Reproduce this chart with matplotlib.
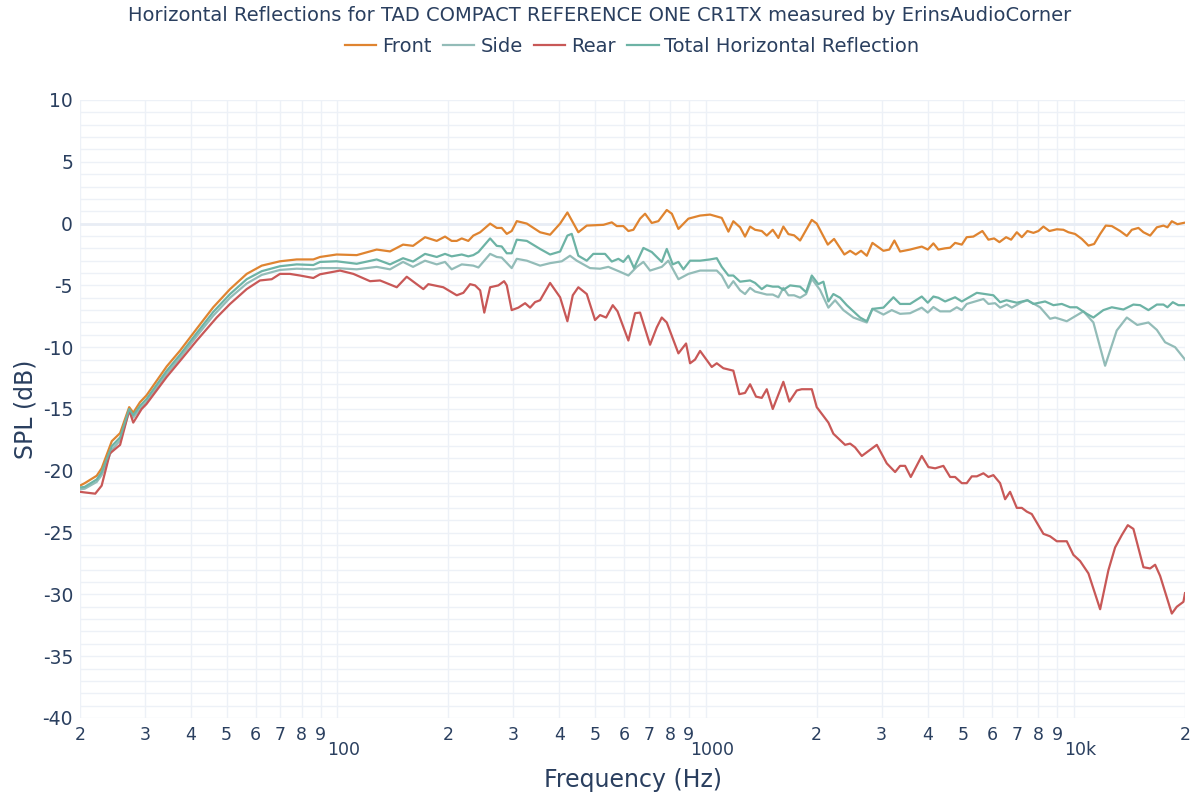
import numpy as np
import matplotlib.pyplot as plt
import matplotlib as mpl

# values (Hz, dB)
freq_front = [20, 20.6, 22.2, 22.9, 24.4, 25.7, 27.2, 27.9, 29.1, 30.3, 34.4, 37.4, 41.5, 46.0, 51.1, 56.7, 62.3,
              69.8, 77.5, 86.0, 89.7, 99.5, 112.8, 127.8, 138.9, 150.7, 160.4, 172.9, 186.0, 195.9, 204.2, 210.8,
              217.5, 226.6, 233.8, 244.0, 259.7, 270.7, 279.2, 288.2, 297.2, 306.8, 326.7, 354.9, 377.8, 402.2,
              421.0, 450.8, 475.2, 527.3, 555.6, 573.3, 597.4, 616.4, 635.9, 663.1, 684.2, 713.4, 743.5, 783.5,
              808.8, 842.7, 897.0, 965.0, 1027, 1105, 1152, 1188, 1239, 1278, 1319, 1361, 1419, 1464, 1520, 1574,
              1624, 1676, 1737, 1803, 1940, 2001, 2144, 2230, 2378, 2465, 2554, 2640, 2736, 2834, 3036, 3150,
              3251, 3369, 3586, 3858, 4006, 4149, 4280, 4464, 4606, 4752, 4955, 5110, 5327, 5636, 5852, 6065,
              6268, 6537, 6744, 6989, 7211, 7468, 7754, 7998, 8253, 8569, 8975, 9352, 9650, 10062, 10492, 10936,
              11333, 11766, 12190, 12657, 13333, 13900, 14343, 14947, 15423, 16084, 16773, 17478, 17922, 18418,
              19075, 20000]
spl_front = [-21.2, -21.0, -20.4, -19.8, -17.6, -16.95, -14.85, -15.3, -14.45, -13.9, -11.55, -10.27, -8.5, -6.77,
             -5.3, -4.07, -3.4, -3.05, -2.9, -2.9, -2.7, -2.5, -2.55, -2.1, -2.25, -1.7, -1.8, -1.1, -1.4, -1.05,
             -1.4, -1.4, -1.2, -1.4, -0.97, -0.7, 0.0, -0.35, -0.35, -0.83, -0.6, 0.2, 0.0, -0.7, -0.9, 0.0,
             0.9, -0.7, -0.16, -0.1, 0.1, -0.2, -0.2, -0.6, -0.5, 0.4, 0.8, 0.05, 0.2, 1.1,
             0.8, -0.43, 0.4, 0.65, 0.73, 0.46, -0.65, 0.19, -0.3, -1.05, -0.24, -0.5, -0.6, -0.97, -0.5, -1.16,
             -0.24, -0.85, -0.95, -1.37, 0.3, 0.0, -1.7, -1.24, -2.5, -2.2, -2.5, -2.2, -2.6, -1.56, -2.2, -2.1,
             -1.37, -2.26, -2.1, -1.86, -2.1, -1.6, -2.1, -2.0, -1.95, -1.56, -1.7, -1.1, -1.05, -0.6, -1.3, -1.2,
             -1.5, -1.1, -1.3, -0.7, -1.1, -0.6, -0.75, -0.6, -0.24, -0.6, -0.46, -0.5, -0.7, -0.84, -1.24, -1.78,
             -1.65, -0.84, -0.16, -0.2, -0.6, -1.0, -0.5, -0.35, -0.7, -0.97, -0.3, -0.16, -0.3, 0.19,
             -0.05, 0.08]

freq_side = [20, 20.6, 22.2, 22.9, 24.4, 25.7, 27.2, 27.9, 29.1, 30.3, 34.4, 37.4, 41.5, 46.0, 51.1, 56.7, 62.3,
             69.8, 77.5, 86.0, 89.7, 99.5, 112.8, 127.8, 138.9, 150.7, 160.4, 172.9, 186.0, 195.9, 204.2, 217.5,
             233.8, 241.4, 259.7, 270.7, 279.2, 297.2, 306.8, 326.7, 354.9, 377.8, 406.4, 428.0, 446.4, 485.0,
             516.4, 543.8, 585.2, 616.4, 649.6, 677, 705.8, 759.4, 791.2, 842.7, 897.0, 965.0, 1027, 1071, 1105,
             1152, 1188, 1239, 1278, 1319, 1361, 1464, 1520, 1574, 1624, 1676, 1737, 1803, 1872, 1940, 2042,
             2152, 2244, 2364, 2516, 2736, 2834, 3036, 3198, 3369, 3586, 3858, 4006, 4149, 4326, 4606, 4803,
             4955, 5110, 5672, 5852, 6102, 6295, 6566, 6772, 7211, 7468, 8084, 8604, 8880, 9550, 10598, 11280,
             12137, 13052, 13900, 14836, 15912, 16773, 17660, 18800, 20000]
spl_side = [-21.5, -21.45, -20.9, -20.35, -18.3, -17.55, -15.2, -15.7, -15.0, -14.45, -12.15, -10.85, -9.1, -7.45,
            -6.0, -4.85, -4.15, -3.75, -3.65, -3.7, -3.6, -3.6, -3.7, -3.5, -3.7, -3.1, -3.5, -3.0, -3.3, -3.1,
            -3.7, -3.3, -3.4, -3.55, -2.45, -2.7, -2.75, -3.6, -2.85, -3.0, -3.4, -3.2, -3.05, -2.6, -3.0, -3.6,
            -3.65, -3.5, -3.9, -4.2, -3.5, -3.1, -3.8, -3.5, -3.0, -4.5, -4.07, -3.8, -3.8, -3.8, -4.2,
            -5.2, -4.66, -5.4, -5.7, -5.2, -5.5, -5.74, -5.74, -5.96, -5.2, -5.8, -5.8, -6.0, -5.7, -4.47, -5.36,
            -6.8, -6.2, -7.0, -7.6, -8.0, -6.9, -7.36, -7.0, -7.3, -7.25, -6.8, -7.2, -6.75, -7.1, -7.1, -6.77,
            -7.0, -6.5, -6.1, -6.5, -6.44, -6.8, -6.55, -6.8, -6.36, -6.2, -6.77, -7.7, -7.6, -7.9, -7.1, -8.0,
            -11.5, -8.65, -7.6, -8.2, -8.0, -8.6, -9.6, -10.0, -11.0]

freq_rear = [20, 20.6, 22.0, 22.9, 24.1, 25.7, 27.2, 27.9, 29.4, 30.3, 34.4, 37.4, 41.5, 47.0, 51.1, 56.7, 61.6,
             66.3, 69.8, 74.3, 79.1, 86.0, 89.7, 101.6, 110.5, 122.6, 130.5, 144.9, 154.2, 171.1, 176.5, 193.8,
             210.8, 219.7, 229.1, 236.4, 244.0, 250.4, 259.7, 273.4, 283.4, 288.2, 297.2, 309.8, 323.2, 333.4,
             344.0, 354.9, 377.8, 402.2, 421.0, 435.4, 450.8, 475.2, 500.4, 516.4, 536.2, 559.0, 576.0, 616.4,
             642.6, 663.1, 705.8, 736.0, 759.4, 783.5, 842.7, 884.0, 906.4, 935.2, 965.0, 1038, 1071, 1116, 1188,
             1233, 1278, 1319, 1369, 1419, 1464, 1520, 1624, 1686, 1766, 1822, 1940, 2001, 2152, 2220, 2389,
             2465, 2542, 2652, 2913, 3100, 3266, 3369, 3476, 3602, 3858, 4022, 4195, 4416, 4606, 4752, 4955,
             5110, 5274, 5443, 5672, 5852, 6037, 6295, 6496, 6700, 6989, 7211, 7436, 7674, 8253, 8604, 8975,
             9550, 9954, 10380, 10936, 11766, 12388, 12920, 13472, 13988, 14486, 15423, 16084, 16592, 17118,
             18418, 19000, 19804, 20000]
spl_rear = [-21.7, -21.75, -21.85, -21.2, -18.6, -17.9, -15.1, -16.1, -15.0, -14.6, -12.4, -11.1, -9.46, -7.6,
            -6.5, -5.3, -4.6, -4.5, -4.07, -4.07, -4.2, -4.4, -4.1, -3.8, -4.07, -4.66, -4.6, -5.15, -4.3, -5.3,
            -4.9, -5.15, -5.8, -5.6, -4.9, -5.0, -5.4, -7.2, -5.15, -5.0, -4.66, -5.0, -7.0, -6.8, -6.44, -6.8,
            -6.35, -6.2, -4.8, -5.96, -7.9, -5.8, -5.15, -5.7, -7.8, -7.4, -7.6, -6.6, -7.1, -9.46,
            -7.25, -7.2, -9.8, -8.4, -7.6, -8.0, -10.5, -9.7, -11.3, -11.0, -10.3, -11.6, -11.3, -11.7, -11.9,
            -13.8, -13.7, -13.0, -14.0, -14.1, -13.4, -15.0, -12.8, -14.4, -13.5, -13.4, -13.4, -14.85, -16.1,
            -17.0, -17.9, -17.8, -18.1, -18.8, -17.9, -19.4, -20.1, -19.6, -19.6, -20.5, -18.8, -19.7, -19.8,
            -19.6, -20.5, -20.5, -21.0, -21.0, -20.45, -20.45, -20.2, -20.5, -20.35, -21.0, -22.3, -21.7, -23.0,
            -23.0, -23.3, -23.5, -25.1, -25.3, -25.7, -25.7, -26.8, -27.3, -28.3, -31.2, -28.05, -26.2, -25.2,
            -24.4, -24.7, -27.8, -27.9, -27.6, -28.5, -31.55, -31.0, -30.6, -29.9]

freq_total = [20, 20.6, 22.2, 22.9, 24.4, 25.7, 27.2, 27.9, 29.1, 30.3, 34.4, 37.4, 41.5, 46.0, 51.1, 56.7, 62.3,
              69.8, 77.5, 86.0, 89.7, 99.5, 112.8, 127.8, 138.9, 150.7, 160.4, 172.9, 186.0, 195.9, 204.2, 217.5,
              226.6, 233.8, 241.4, 259.7, 270.7, 279.2, 288.2, 297.2, 306.8, 326.7, 354.9, 377.8, 402.2, 421.0,
              432.6, 450.8, 475.2, 495, 532.8, 555.6, 579, 597.4, 616.4, 638.6, 677, 713.4, 759.4, 783.5, 813.4,
              842.7, 869.4, 906.4, 965.0, 1027, 1071, 1105, 1152, 1188, 1239, 1319, 1361, 1419, 1464, 1520, 1574,
              1624, 1694, 1803, 1872, 1940, 2021, 2086, 2152, 2220, 2315, 2414, 2516, 2624, 2736, 2834, 3036,
              3232, 3369, 3586, 3858, 4006, 4149, 4280, 4464, 4752, 4955, 5443, 6037, 6295, 6550, 6989, 7468,
              7754, 8340, 8787, 9258, 9750, 10170, 10824, 11280, 12004, 12657, 13610, 14486, 15104, 15912, 16773,
              17478, 17922, 18530, 19192, 20000]
spl_total = [-21.35, -21.3, -20.7, -20.1, -18.0, -17.3, -15.0, -15.5, -14.75, -14.2, -11.9, -10.6, -8.85, -7.15,
             -5.7, -4.5, -3.85, -3.45, -3.3, -3.35, -3.1, -3.05, -3.25, -2.9, -3.3, -2.8, -3.07, -2.45, -2.7,
             -2.45, -2.65, -2.5, -2.65, -2.55, -2.3, -1.2, -1.8, -1.85, -2.4, -2.4, -1.3, -1.4, -2.05, -2.5,
             -2.26, -0.97, -0.83, -2.6, -3.0, -2.45, -2.45, -3.07, -2.85, -3.1, -2.6, -3.6, -1.97, -2.3, -3.1,
             -2.05, -3.3, -3.1, -3.7, -3.0, -3.0, -2.9, -2.8, -3.5, -4.2, -4.2, -4.7, -4.6, -4.8, -5.3, -5.0,
             -5.1, -5.1, -5.36, -5.0, -5.1, -5.55, -4.2, -4.9, -4.7, -6.3, -5.7, -6.0, -6.6, -7.1, -7.6, -7.9,
             -6.9, -6.8, -5.96, -6.5, -6.5, -5.9, -6.4, -5.9, -6.0, -6.3, -5.96, -6.3, -5.6, -5.8, -6.36, -6.2,
             -6.4, -6.2, -6.5, -6.3, -6.6, -6.5, -6.77, -6.77, -7.3, -7.6, -7.0, -6.77, -6.95, -6.55, -6.6,
             -7.0, -6.55, -6.55, -6.77, -6.36, -6.6, -6.6]

minor_steps = [2, 3, 4, 5, 6, 7, 8, 9]
decades = [10, 100, 1000]
decade_labels = {100: '100', 1000: '1000', 10000: '10k'}
y_ticks = [10, 5, 0, -5, -10, -15, -20, -25, -30, -35, -40]

text_col = '#2a3f5f'
grid_col = '#edf1f7'

mpl.rcParams['font.family'] = 'DejaVu Sans'
mpl.rcParams['axes.unicode_minus'] = False

fig = plt.figure(figsize=(12, 8), dpi=100)
ax = fig.add_axes([80/1200, 1-718/800, (1185-80)/1200, (718-100)/800])

ax.plot(freq_front, spl_front, color='#df8430', lw=1.6, label='Front')
ax.plot(freq_side, spl_side, color='#93bcb8', lw=1.6, label='Side')
ax.plot(freq_rear, spl_rear, color='#c85857', lw=1.6, label='Rear')
ax.plot(freq_total, spl_total, color='#6db3a5', lw=1.6, label='Total Horizontal Reflection')

ax.set_xscale('log')
ax.set_xlim(20, 20000)
ax.set_ylim(-40, 10)

# ticks 2..9 in every decade; decade values get their own lower row
xt, xl = [], []
for d in decades:
    for m in minor_steps:
        xt.append(m*d)
        xl.append(str(m))
    xt.append(d*10)
    xl.append('')
xt.append(20000)
xl.append('2')
ax.xaxis.set_minor_locator(mpl.ticker.NullLocator())
ax.set_xticks(xt)
ax.set_xticklabels(xl)
ax.set_yticks(y_ticks)
ax.set_yticklabels([str(v) for v in y_ticks])
ax.tick_params(axis='x', length=0, pad=6, labelsize=12.5, labelcolor=text_col)
ax.tick_params(axis='y', length=0, pad=5, labelsize=13.5, labelcolor=text_col)

for f, lab in decade_labels.items():
    ax.annotate(lab, xy=(f, 0), xycoords=('data', 'axes fraction'), xytext=(4.5, -23),
                textcoords='offset points', ha='center', va='center', fontsize=12.5, color=text_col)

# light grid, one line per dB and per log step
for v in range(-40, 11):
    ax.axhline(v, color=grid_col, lw=1, zorder=0)
for v in xt:
    ax.axvline(v, color=grid_col, lw=1, zorder=0)
ax.axhline(0, color='#e8edf5', lw=2, zorder=0)

for s in ax.spines.values():
    s.set_visible(False)

ax.set_xlabel('Frequency (Hz)', fontsize=17, color=text_col, labelpad=17)
ax.set_ylabel('SPL (dB)', fontsize=17, color=text_col, labelpad=4)

fig.suptitle('Horizontal Reflections for TAD COMPACT REFERENCE ONE CR1TX measured by ErinsAudioCorner',
             x=0.5, y=0.993, fontsize=14, color=text_col)
fig.legend(loc='upper center', bbox_to_anchor=(0.527, 0.976), ncol=4, frameon=False, fontsize=14,
           handlelength=1.6, handletextpad=0.3, columnspacing=0.6, labelcolor=text_col)

plt.savefig('out.png', dpi=100, facecolor='white')
